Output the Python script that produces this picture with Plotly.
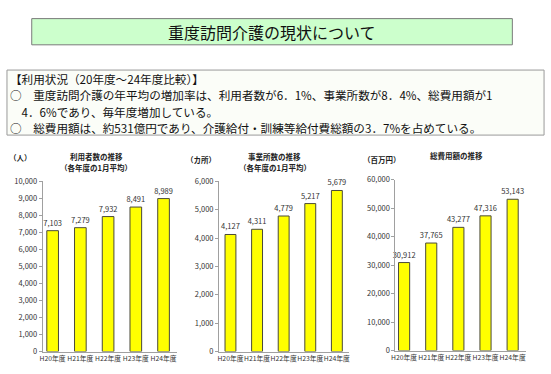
import plotly.graph_objects as go

years = ["H20年度", "H21年度", "H22年度", "H23年度", "H24年度"]
users = [7103, 7279, 7932, 8491, 8989]
offices = [4127, 4311, 4779, 5217, 5679]
costs = [30912, 37765, 43277, 47316, 53143]

users_ticks = [0, 1000, 2000, 3000, 4000, 5000, 6000, 7000, 8000, 9000, 10000]
offices_ticks = [0, 1000, 2000, 3000, 4000, 5000, 6000]
costs_ticks = [0, 10000, 20000, 30000, 40000, 50000, 60000]

main_title = "重度訪問介護の現状について"
box_lines = [
    "【利用状況（20年度～24年度比較）】",
    "○　重度訪問介護の年平均の増加率は、利用者数が6．1%、事業所数が8．4%、総費用額が1",
    "　4．6%であり、毎年度増加している。",
    "○　総費用額は、約531億円であり、介護給付・訓練等給付費総額の3．7%を占めている。",
]

W, H = 551, 374
FONT = "Noto Sans CJK JP"


def px(x):
    return x / W


def py(y):
    return 1 - y / H


fig = go.Figure()

charts = [
    dict(vals=users, ticks=users_ticks, ymax=10000, x0=39, x1=175, y0=180.7, y1=356,
         xr=[-0.36, 4.5], bw=0.42),
    dict(vals=offices, ticks=offices_ticks, ymax=6000, x0=217, x1=348, y0=180.7, y1=356,
         xr=[-0.43, 4.45], bw=0.41),
    dict(vals=costs, ticks=costs_ticks, ymax=60000, x0=395, x1=527, y0=179, y1=355,
         xr=[-0.32, 4.5], bw=0.41),
]

for i, c in enumerate(charts):
    n = "" if i == 0 else str(i + 1)
    fig.add_trace(go.Bar(
        x=years, y=c["vals"], xaxis="x" + n, yaxis="y" + n,
        marker=dict(color="#FFFF00", line=dict(color="#4a4a3a", width=1)),
        width=c["bw"],
        text=[f"{v:,}" for v in c["vals"]], textposition="outside",
        constraintext="none",
        textfont=dict(size=7.5, color="#333333", family=FONT),
        cliponaxis=False, showlegend=False, hoverinfo="skip",
    ))
    fig.layout["xaxis" + n] = dict(
        domain=[px(c["x0"]), px(c["x1"])], anchor="y" + n, type="category",
        range=c["xr"], showline=True, linecolor="#a0a0a0", linewidth=1,
        ticks="", tickangle=0, tickfont=dict(size=6.8, color="#333333", family=FONT),
        showgrid=False, zeroline=False, fixedrange=True,
    )
    fig.layout["yaxis" + n] = dict(
        domain=[py(c["y1"]), py(c["y0"])], anchor="x" + n,
        range=[0, c["ymax"]], tickvals=c["ticks"],
        ticktext=[f"{t:,}" for t in c["ticks"]],
        showline=True, linecolor="#a0a0a0", linewidth=1,
        ticks="outside", ticklen=3, tickcolor="#a0a0a0",
        tickfont=dict(size=7.5, color="#333333", family=FONT),
        showgrid=False, zeroline=False, fixedrange=True,
    )

shapes = [
    dict(type="rect", xref="paper", yref="paper", x0=px(28), x1=px(513), y0=py(40), y1=py(13),
         fillcolor="#ccffcc", line=dict(color="#7a7a7a", width=1), layer="below"),
    dict(type="rect", xref="paper", yref="paper", x0=px(3), x1=px(545), y0=py(133), y1=py(66),
         fillcolor="#fbfdf8", line=dict(color="#9a9a9a", width=1), layer="below"),
]

ann = [dict(text=main_title, x=px(270), y=py(27), xref="paper", yref="paper",
            showarrow=False, font=dict(size=16, color="#111111", family=FONT),
            xanchor="center", yanchor="middle")]

for k, t in enumerate(box_lines):
    ann.append(dict(text=t, x=px(5), y=py(75 + k * 17), xref="paper", yref="paper",
                    showarrow=False, borderpad=0,
                    font=dict(size=11.6, color="#111111", family=FONT),
                    xanchor="left", yanchor="middle"))

small = [
    ("<b>利用者数の推移</b>", 93, 155), ("<b>（各年度の1月平均）</b>", 93, 166),
    ("<b>（人）</b>", 17, 156),
    ("<b>事業所数の推移</b>", 273, 155), ("<b>（各年度の1月平均）</b>", 273, 166),
    ("<b>（カ所）</b>", 199, 158),
    ("<b>総費用額の推移</b>", 457, 154),
    ("<b>（百万円）</b>", 381, 158),
]
for t, x, y in small:
    ann.append(dict(text=t, x=px(x), y=py(y), xref="paper", yref="paper", showarrow=False,
                    borderpad=0,
                    font=dict(size=7.5, color="#222222", family=FONT),
                    xanchor="center", yanchor="middle"))

fig.update_layout(
    width=W, height=H, autosize=False,
    margin=dict(l=0, r=0, t=0, b=0),
    paper_bgcolor="white", plot_bgcolor="white",
    shapes=shapes, annotations=ann,
    font=dict(family=FONT),
)

fig.write_html("out.html", config={"displayModeBar": False},
               post_script="document.body.style.margin='0';document.body.style.padding='0';")
